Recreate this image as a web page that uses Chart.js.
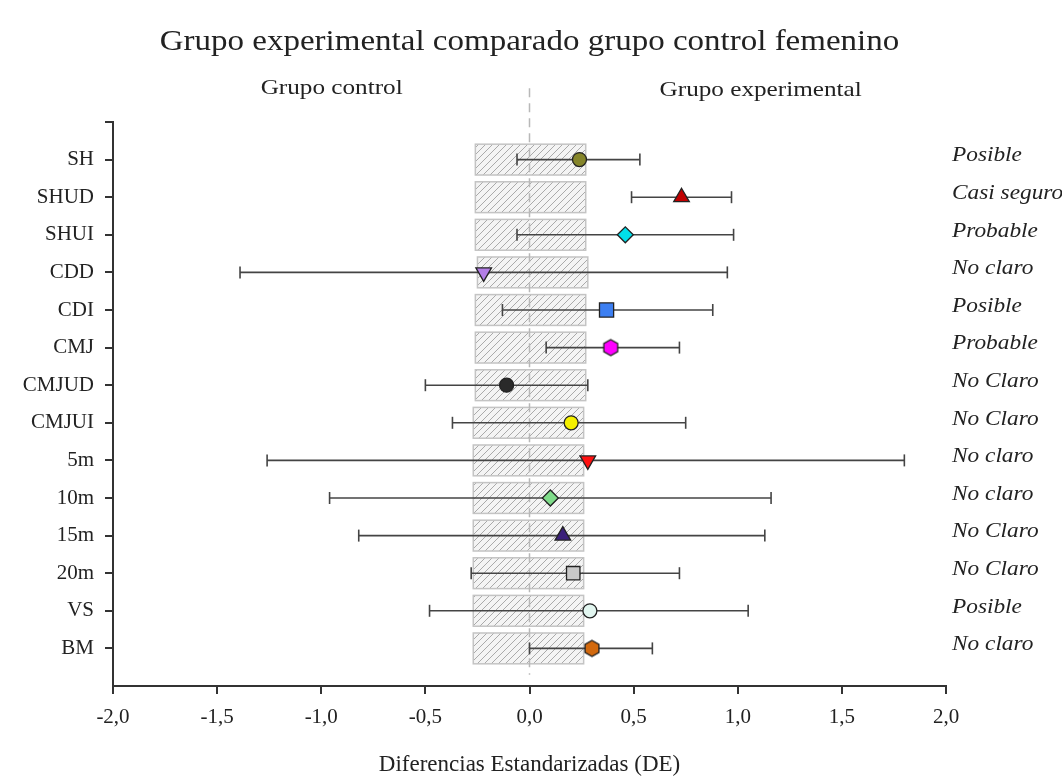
<!DOCTYPE html>
<html>
<head>
<meta charset="utf-8">
<script src="https://cdn.jsdelivr.net/npm/chart.js@4"></script>
<style>
  body { margin: 0; background: #fff; }
</style>
</head>
<body>
<canvas id="chart" width="1062" height="778"></canvas>
<script>
// rows, top to bottom
const variables = ["SH", "SHUD", "SHUI", "CDD", "CDI", "CMJ", "CMJUD", "CMJUI", "5m", "10m", "15m", "20m", "VS", "BM"];
const effect = [0.24, 0.73, 0.46, -0.22, 0.37, 0.39, -0.11, 0.20, 0.28, 0.10, 0.16, 0.21, 0.29, 0.30];
const lowerCI = [-0.06, 0.49, -0.06, -1.39, -0.13, 0.08, -0.50, -0.37, -1.26, -0.96, -0.82, -0.28, -0.48, 0.00];
const upperCI = [0.53, 0.97, 0.98, 0.95, 0.88, 0.72, 0.28, 0.75, 1.80, 1.16, 1.13, 0.72, 1.05, 0.59];
const inference = ["Posible", "Casi seguro", "Probable", "No claro", "Posible", "Probable", "No Claro", "No Claro", "No claro", "No claro", "No Claro", "No Claro", "Posible", "No claro"];
// smallest worthwhile change band (hatched boxes)
const swcLow = [-0.26, -0.26, -0.26, -0.25, -0.26, -0.26, -0.26, -0.27, -0.27, -0.27, -0.27, -0.27, -0.27, -0.27];
const swcHigh = [0.27, 0.27, 0.27, 0.28, 0.27, 0.27, 0.27, 0.26, 0.26, 0.26, 0.26, 0.26, 0.26, 0.26];
const xTicks = [-2, -1.5, -1, -0.5, 0, 0.5, 1, 1.5, 2];

const serif = "'Liberation Serif', 'Times New Roman', serif";

function hexagon(fill, r) {
    const c = document.createElement("canvas");
    const s = 2 * r + 4;
    c.width = s; c.height = s;
    const g = c.getContext("2d");
    g.beginPath();
    for (let i = 0; i < 6; i++) {
        const a = Math.PI / 3 * i - Math.PI / 2;
        const px = s / 2 + r * Math.cos(a), py = s / 2 + r * Math.sin(a);
        if (i === 0) g.moveTo(px, py); else g.lineTo(px, py);
    }
    g.closePath();
    g.fillStyle = fill;
    g.fill();
    g.lineWidth = 1.3;
    g.strokeStyle = "#222";
    g.stroke();
    return c;
}

const markerStyle = ["circle", "triangle", "rectRot", "triangle", "rect", hexagon("#ff00ff", 8), "circle", "circle", "triangle", "rectRot", "triangle", "rect", "circle", hexagon("#d2690e", 8)];
const markerRotation = [0, 0, 0, 180, 0, 0, 0, 0, 180, 0, 0, 0, 0, 0];
const markerColor = ["#85852a", "#c00000", "#00e0ea", "#b37ee6", "#3c7ff2", "#ff00ff", "#2a2a2a", "#f5f000", "#ff1010", "#7fdc8a", "#3a1f7a", "#c8c8c8", "#e2f6f0", "#d2690e"];
const markerRadius = [7, 9, 8, 9, 10, 8, 7, 7, 9, 8, 9, 9.5, 7, 8];

const ciDatasets = variables.map((v, i) => ({
    type: "line",
    label: v,
    data: [{ x: lowerCI[i], y: i + 1 }, { x: upperCI[i], y: i + 1 }],
    borderColor: "#444",
    borderWidth: 1.6,
    pointStyle: "line",
    pointRotation: 90,
    pointRadius: 6,
    pointBorderColor: "#444",
    pointBorderWidth: 1.6,
    order: 2
}));

const pointDataset = {
    type: "scatter",
    label: "DE",
    data: effect.map((e, i) => ({ x: e, y: i + 1 })),
    pointStyle: markerStyle,
    pointRotation: markerRotation,
    backgroundColor: markerColor,
    borderColor: "#222",
    borderWidth: 1.3,
    pointRadius: markerRadius,
    order: 1
};

// hatch pattern for the boxes
function hatchPattern() {
    const c = document.createElement("canvas");
    c.width = 7; c.height = 7;
    const g = c.getContext("2d");
    g.fillStyle = "#f4f4f4";
    g.fillRect(0, 0, 7, 7);
    g.strokeStyle = "#aaaaaa";
    g.lineWidth = 1;
    g.beginPath();
    g.moveTo(0, 7); g.lineTo(7, 0);
    g.moveTo(-1, 1); g.lineTo(1, -1);
    g.moveTo(6, 8); g.lineTo(8, 6);
    g.stroke();
    return g.createPattern(c, "repeat");
}

// text drawn a little wider, like the reference's type
function wideText(ctx, text, x, y, sx) {
    ctx.save();
    ctx.translate(x, y);
    ctx.scale(sx, 1);
    ctx.fillText(text, 0, 0);
    ctx.restore();
}

const decor = {
    id: "decor",
    beforeDatasetsDraw(chart) {
        const ctx = chart.ctx;
        const xs = chart.scales.x, ys = chart.scales.y;
        const pat = hatchPattern();
        ctx.save();
        variables.forEach((v, i) => {
            const x1 = xs.getPixelForValue(swcLow[i]);
            const x2 = xs.getPixelForValue(swcHigh[i]);
            const y1 = ys.getPixelForValue(i + 1 - 0.41);
            const y2 = ys.getPixelForValue(i + 1 + 0.41);
            ctx.fillStyle = pat;
            ctx.fillRect(x1, y1, x2 - x1, y2 - y1);
            ctx.strokeStyle = "#c4c4c4";
            ctx.lineWidth = 1.5;
            ctx.strokeRect(x1, y1, x2 - x1, y2 - y1);
        });
        // zero line
        const x0 = xs.getPixelForValue(0);
        ctx.strokeStyle = "#b8b8b8";
        ctx.lineWidth = 1.5;
        ctx.setLineDash([9, 6]);
        ctx.beginPath();
        ctx.moveTo(x0, ys.getPixelForValue(-0.9));
        ctx.lineTo(x0, ys.getPixelForValue(14.7));
        ctx.stroke();
        ctx.restore();
    },
    afterDraw(chart) {
        const ctx = chart.ctx;
        const xs = chart.scales.x, ys = chart.scales.y;
        const area = chart.chartArea;
        ctx.save();
        ctx.fillStyle = "#222";
        ctx.textBaseline = "middle";
        ctx.textAlign = "center";
        ctx.font = "30px " + serif;
        wideText(ctx, "Grupo experimental comparado grupo control femenino", (area.left + area.right) / 2, 42, 1.1);
        ctx.font = "21px " + serif;
        wideText(ctx, "Grupo control", xs.getPixelForValue(-0.95), 88, 1.2);
        wideText(ctx, "Grupo experimental", xs.getPixelForValue(1.11), 90, 1.2);
        ctx.font = "23px " + serif;
        ctx.fillText("Diferencias Estandarizadas (DE)", xs.getPixelForValue(0), 765);
        ctx.font = "italic 22px " + serif;
        ctx.textAlign = "left";
        inference.forEach((t, i) => {
            wideText(ctx, t, area.right + 6, ys.getPixelForValue(i + 1) - 4, 1.06);
        });
        ctx.restore();
    }
};

new Chart(document.getElementById("chart"), {
    data: { datasets: [pointDataset, ...ciDatasets] },
    options: {
        responsive: false,
        animation: false,
        layout: { padding: { left: 0, top: 122, right: 116, bottom: 0 } },
        plugins: { legend: { display: false }, tooltip: { enabled: false }, title: { display: false } },
        scales: {
            x: {
                type: "linear",
                min: -2,
                max: 2,
                afterBuildTicks: s => { s.ticks = xTicks.map(v => ({ value: v })); },
                afterFit: s => { s.height = 92; },
                ticks: {
                    callback: v => v.toFixed(1).replace(".", ","),
                    font: { family: serif, size: 21 },
                    color: "#222",
                    padding: 11,
                    maxRotation: 0,
                    autoSkip: false
                },
                grid: { display: true, drawOnChartArea: false, drawTicks: true, tickLength: 8, color: "#333", lineWidth: 2 },
                border: { display: true, color: "#333", width: 2 }
            },
            y: {
                type: "linear",
                reverse: true,
                min: 0,
                max: 15,
                afterBuildTicks: s => { s.ticks = [0].concat(variables.map((v, i) => i + 1)).map(v => ({ value: v })); },
                afterFit: s => { s.width = 113; },
                ticks: {
                    callback: v => variables[v - 1] || "",
                    font: { family: serif, size: 21 },
                    color: "#222",
                    padding: 11,
                    autoSkip: false
                },
                grid: { display: true, drawOnChartArea: false, drawTicks: true, tickLength: 8, color: "#333", lineWidth: 2 },
                border: { display: true, color: "#333", width: 2 }
            }
        }
    },
    plugins: [decor]
});
</script>
</body>
</html>
